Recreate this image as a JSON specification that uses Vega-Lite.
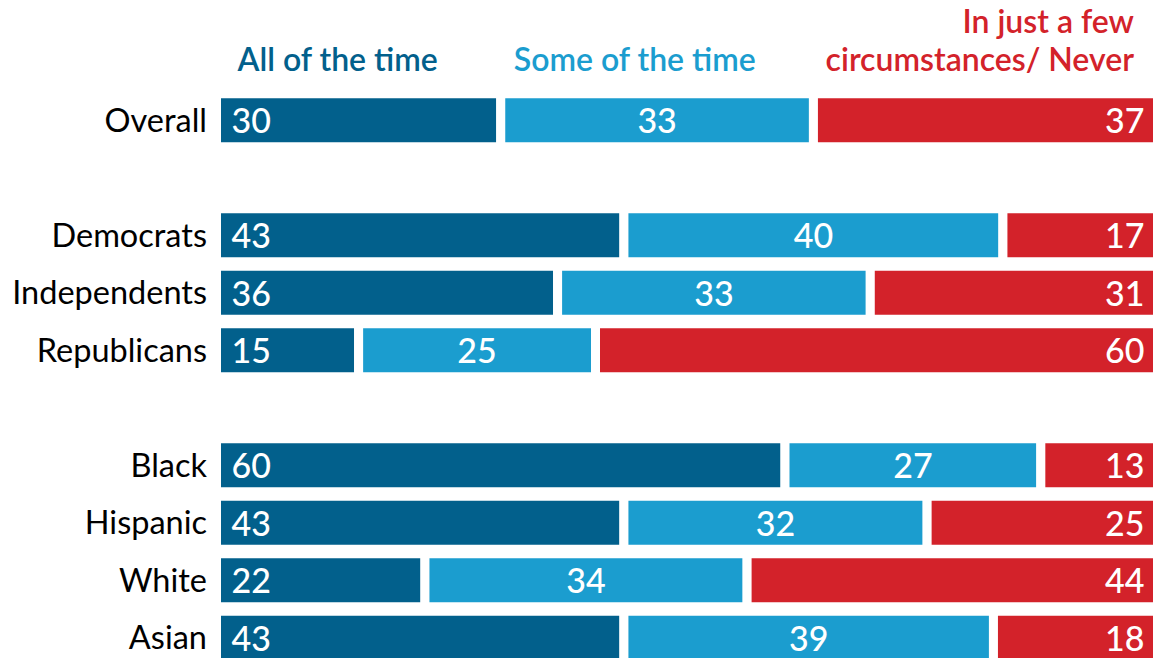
{
  "$schema": "https://vega.github.io/schema/vega-lite/v6.json",
  "width": 947.5,
  "height": 570.5,
  "autosize": {"type": "none"},
  "padding": {"left": 216.5, "top": 93.8, "right": 0, "bottom": 0},
  "background": "white",
  "config": {"view": {"stroke": null}, "font": "Lato"},
  "data": {"values": [
    {"group": "Overall", "cat": "All of the time", "value": 30},
    {"group": "Overall", "cat": "Some of the time", "value": 33},
    {"group": "Overall", "cat": "In just a few circumstances/ Never", "value": 37},
    {"group": "Democrats", "cat": "All of the time", "value": 43},
    {"group": "Democrats", "cat": "Some of the time", "value": 40},
    {"group": "Democrats", "cat": "In just a few circumstances/ Never", "value": 17},
    {"group": "Independents", "cat": "All of the time", "value": 36},
    {"group": "Independents", "cat": "Some of the time", "value": 33},
    {"group": "Independents", "cat": "In just a few circumstances/ Never", "value": 31},
    {"group": "Republicans", "cat": "All of the time", "value": 15},
    {"group": "Republicans", "cat": "Some of the time", "value": 25},
    {"group": "Republicans", "cat": "In just a few circumstances/ Never", "value": 60},
    {"group": "Black", "cat": "All of the time", "value": 60},
    {"group": "Black", "cat": "Some of the time", "value": 27},
    {"group": "Black", "cat": "In just a few circumstances/ Never", "value": 13},
    {"group": "Hispanic", "cat": "All of the time", "value": 43},
    {"group": "Hispanic", "cat": "Some of the time", "value": 32},
    {"group": "Hispanic", "cat": "In just a few circumstances/ Never", "value": 25},
    {"group": "White", "cat": "All of the time", "value": 22},
    {"group": "White", "cat": "Some of the time", "value": 34},
    {"group": "White", "cat": "In just a few circumstances/ Never", "value": 44},
    {"group": "Asian", "cat": "All of the time", "value": 43},
    {"group": "Asian", "cat": "Some of the time", "value": 39},
    {"group": "Asian", "cat": "In just a few circumstances/ Never", "value": 18}
  ]},
  "transform": [
    {"calculate": "indexof(['All of the time','Some of the time','In just a few circumstances/ Never'], datum.cat)", "as": "ord"},
    {"stack": "value", "groupby": ["group"], "sort": [{"field": "ord", "order": "ascending"}], "as": ["v0", "v1"]},
    {"calculate": "(datum.v0 + datum.v1) / 2", "as": "mid"}
  ],
  "encoding": {
    "y": {
      "field": "group",
      "type": "nominal",
      "title": null,
      "scale": {
        "domain": ["Overall", "b1", "Democrats", "Independents", "Republicans", "b2", "Black", "Hispanic", "White", "Asian"],
        "paddingInner": 0.07826,
        "paddingOuter": 0
      },
      "axis": {
        "domain": false,
        "ticks": false,
        "grid": false,
        "labelFontSize": 32.5,
        "labelColor": "black",
        "labelFont": "Lato",
        "labelPadding": 10,
        "labelOffset": 1.5,
        "labelLimit": 300,
        "labelExpr": "indexof(['b1','b2'], datum.value) >= 0 ? '' : datum.value"
      }
    }
  },
  "layer": [
    {
      "mark": {"type": "bar", "stroke": "white", "strokeWidth": 9},
      "encoding": {
        "x": {"field": "v0", "type": "quantitative", "scale": {"domain": [0, 100], "nice": false, "zero": false}, "axis": null},
        "x2": {"field": "v1"},
        "color": {
          "field": "cat",
          "type": "nominal",
          "scale": {"domain": ["All of the time", "Some of the time", "In just a few circumstances/ Never"], "range": ["#02608C", "#1B9DCF", "#D3222A"]},
          "legend": null
        }
      }
    },
    {
      "transform": [{"filter": "datum.ord == 0"}],
      "mark": {"type": "text", "align": "left", "baseline": "alphabetic", "dx": 15, "dy": 13, "fontSize": 34, "fontWeight": 500, "color": "white"},
      "encoding": {"x": {"field": "v0", "type": "quantitative"}, "text": {"field": "value", "type": "quantitative"}}
    },
    {
      "transform": [{"filter": "datum.ord == 1"}],
      "mark": {"type": "text", "align": "center", "baseline": "alphabetic", "dy": 13, "fontSize": 34, "fontWeight": 500, "color": "white"},
      "encoding": {"x": {"field": "mid", "type": "quantitative"}, "text": {"field": "value", "type": "quantitative"}}
    },
    {
      "transform": [{"filter": "datum.ord == 2"}],
      "mark": {"type": "text", "align": "right", "baseline": "alphabetic", "dx": -19.5, "dy": 13, "fontSize": 34, "fontWeight": 500, "color": "white"},
      "encoding": {"x": {"field": "v1", "type": "quantitative"}, "text": {"field": "value", "type": "quantitative"}}
    },
    {
      "transform": [{"filter": "datum.group == 'Overall' && datum.ord == 0"}],
      "mark": {"type": "text", "align": "left", "baseline": "alphabetic", "dx": 21, "dy": -49.3, "fontSize": 32, "fontWeight": 600, "color": "#02608C"},
      "encoding": {"x": {"field": "v0", "type": "quantitative"}, "text": {"field": "cat", "type": "nominal"}}
    },
    {
      "transform": [{"filter": "datum.group == 'Overall' && datum.ord == 1"}],
      "mark": {"type": "text", "align": "left", "baseline": "alphabetic", "dx": 13, "dy": -49.3, "fontSize": 32, "fontWeight": 600, "color": "#1B9DCF"},
      "encoding": {"x": {"field": "v0", "type": "quantitative"}, "text": {"field": "cat", "type": "nominal"}}
    },
    {
      "transform": [{"filter": "datum.group == 'Overall' && datum.ord == 2"}],
      "mark": {"type": "text", "align": "right", "baseline": "alphabetic", "dx": -30, "dy": -87.3, "lineHeight": 38, "fontSize": 32, "fontWeight": 600, "color": "#D3222A"},
      "encoding": {"x": {"field": "v1", "type": "quantitative"}, "text": {"value": ["In just a few", "circumstances/ Never"]}}
    }
  ]
}
